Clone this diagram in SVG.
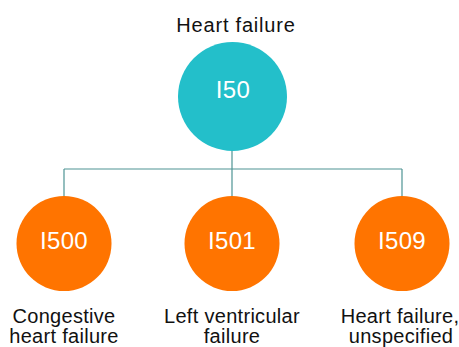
<svg xmlns="http://www.w3.org/2000/svg" width="459" height="347" viewBox="0 0 459 347">
<style>
.lbl{font-family:"Liberation Sans",Arial,sans-serif;font-size:20px;letter-spacing:0.3px;fill:#111;text-anchor:middle}
.top{letter-spacing:0.8px}
.code{font-family:"Liberation Sans",Arial,sans-serif;font-size:24px;letter-spacing:0.3px;fill:#fff;text-anchor:middle}
.edge{fill:none;stroke:#4f9494;stroke-width:1.2}
.root{fill:#23bfca}
.child{fill:#ff7400}
</style>
<rect width="459" height="347" fill="#fff"/>
<g id="connectors">
<path class="edge" d="M232 150 V169 M64 169 H402 M64 169 V197 M232 169 V197 M402 169 V197"/>
</g>
<g id="I50">
<text class="lbl top" x="236" y="32">Heart failure</text>
<circle class="root" cx="232.5" cy="96.5" r="54.5"/>
<text class="code" x="233" y="98">I50</text>
</g>
<g id="I500">
<circle class="child" cx="64" cy="243.5" r="47.5"/>
<text class="code" x="64" y="249">I500</text>
<text class="lbl" x="64" y="323">Congestive</text>
<text class="lbl" x="64" y="343">heart failure</text>
</g>
<g id="I501">
<circle class="child" cx="232" cy="243.5" r="47.5"/>
<text class="code" x="232" y="249">I501</text>
<text class="lbl" x="232" y="323">Left ventricular</text>
<text class="lbl" x="232" y="343">failure</text>
</g>
<g id="I509">
<circle class="child" cx="402" cy="243.5" r="47.5"/>
<text class="code" x="402" y="249">I509</text>
<text class="lbl" x="400" y="323">Heart failure,</text>
<text class="lbl" x="401" y="343">unspecified</text>
</g>
</svg>
